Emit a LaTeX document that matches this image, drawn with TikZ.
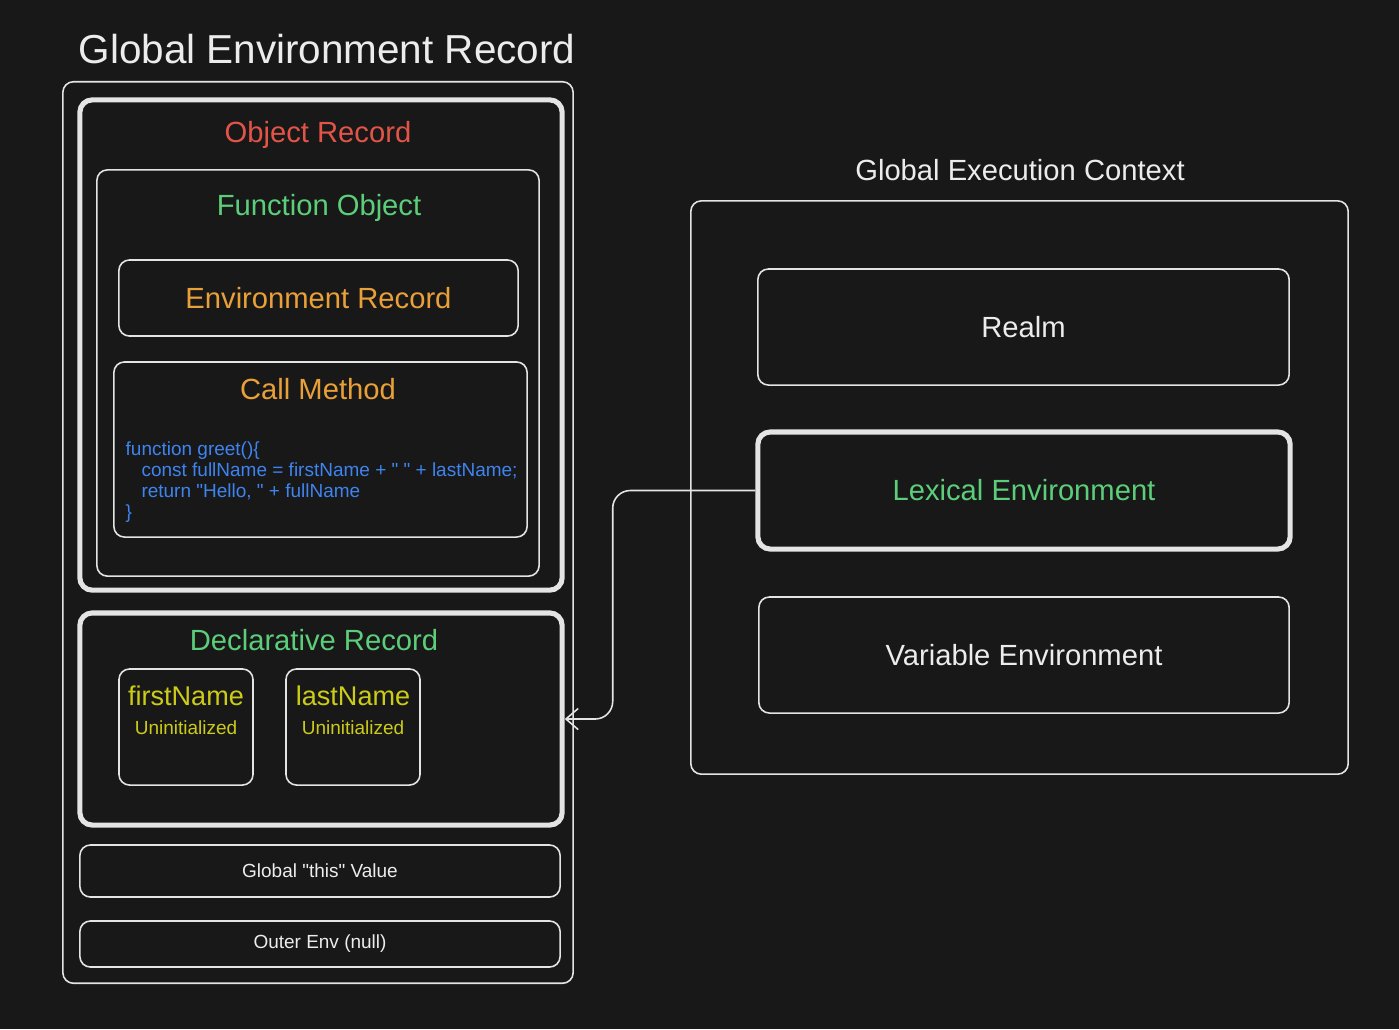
\documentclass[tikz,border=0pt]{standalone}
\usepackage{fontspec}
\setmainfont{Liberation Sans}[Ligatures=TeXOff]
\usetikzlibrary{arrows.meta, positioning}
\definecolor{bgdark}{RGB}{24,24,24}
\definecolor{linegray}{RGB}{228,228,228}
\definecolor{txtwhite}{RGB}{236,236,236}
\definecolor{recred}{RGB}{226,84,72}
\definecolor{recgreen}{RGB}{92,206,122}
\definecolor{recorange}{RGB}{234,160,56}
\definecolor{codeblue}{RGB}{62,132,240}
\definecolor{varyellow}{RGB}{204,204,24}

\tikzset{
  thinbox/.style={draw=linegray, line width=0.45pt, rounded corners=3pt, inner sep=0pt},
  thickbox/.style={draw=linegray, line width=1.45pt, rounded corners=3.5pt, inner sep=0pt},
  bigtitle/.style={text=txtwhite, font=\fontsize{11.5}{13}\selectfont},
  boxtitle/.style={font=\fontsize{8.3}{10}\selectfont},
  vartitle/.style={text=varyellow, font=\fontsize{7.7}{9}\selectfont},
  smalltext/.style={font=\fontsize{5.4}{5.9}\selectfont},
  link/.style={draw=linegray, line width=0.45pt, rounded corners=5pt, -{Straight Barb[length=3.5pt, width=6pt]}}
}

\begin{document}
\begin{tikzpicture}[x=0.01cm, y=-0.01cm]
  \fill[bgdark] (0,0) rectangle (1399,1029);
  \useasboundingbox (0,0) rectangle (1399,1029);

  % --- Global Environment Record ---
  \node[bigtitle] (gertitle) at (327,49) {Global Environment Record};
  \node[thinbox, minimum width=5.10cm, minimum height=9.01cm] (ger) at (318,532.5) {};

  % Object record with the function object inside
  \node[thickbox, minimum width=4.82cm, minimum height=4.90cm] (objrec) at (321,345) {};
  \node[boxtitle, text=recred] (objtitle) at (318,135) {Object Record};
  \node[thinbox, minimum width=4.42cm, minimum height=4.06cm] (funcobj) at (318,373) {};
  \node[boxtitle, text=recgreen] (functitle) at (319,208) {Function Object};
  \node[thinbox, boxtitle, text=recorange, minimum width=3.99cm, minimum height=0.76cm] (envrec) at (318.5,298) {Environment Record};
  \node[thinbox, minimum width=4.13cm, minimum height=1.75cm] (callm) at (320.5,449.5) {};
  \node[boxtitle, text=recorange] (calltitle) at (318,389) {Call Method};
  \node[smalltext, text=codeblue, align=left, anchor=west, inner sep=0pt] (code) at (125,482)
    {function greet()\{\\
     \hspace*{4.5pt}const fullName = firstName + " " + lastName;\\
     \hspace*{4.5pt}return "Hello, " + fullName\\
     \}};

  % Declarative record
  \node[thickbox, minimum width=4.82cm, minimum height=2.12cm] (declrec) at (321,719) {};
  \node[boxtitle, text=recgreen] (decltitle) at (314,640) {Declarative Record};
  \node[thinbox, minimum width=1.34cm, minimum height=1.16cm] (firstbox) at (186,727) {};
  \node[vartitle] (firstname) at (186,696) {firstName};
  \node[smalltext, text=varyellow] (firstval) at (186,728) {Uninitialized};
  \node[thinbox, minimum width=1.34cm, minimum height=1.16cm] (lastbox) at (353,727) {};
  \node[vartitle] (lastname) at (353,696) {lastName};
  \node[smalltext, text=varyellow] (lastval) at (353,728) {Uninitialized};

  \node[thinbox, smalltext, text=txtwhite, minimum width=4.80cm, minimum height=0.52cm] (thisval) at (320,871) {Global "this" Value};
  \node[thinbox, smalltext, text=txtwhite, minimum width=4.80cm, minimum height=0.46cm] (outerenv) at (320,944) {Outer Env (null)};

  % --- Global Execution Context ---
  \node[boxtitle, text=txtwhite] (gectitle) at (1020,170) {Global Execution Context};
  \node[thinbox, minimum width=6.57cm, minimum height=5.73cm] (gec) at (1019.5,487.5) {};
  \node[thinbox, boxtitle, text=txtwhite, minimum width=5.31cm, minimum height=1.16cm] (realm) at (1023.5,327) {Realm};
  \node[thickbox, boxtitle, text=recgreen, minimum width=5.32cm, minimum height=1.17cm] (lexenv) at (1024,490.5) {Lexical Environment};
  \node[thinbox, boxtitle, text=txtwhite, minimum width=5.30cm, minimum height=1.16cm] (varenv) at (1024,655) {Variable Environment};

  % Connector
  \draw[link] (lexenv.west) -| ([xshift=0.48cm]declrec.east) -- (declrec.east);
\end{tikzpicture}
\end{document}
